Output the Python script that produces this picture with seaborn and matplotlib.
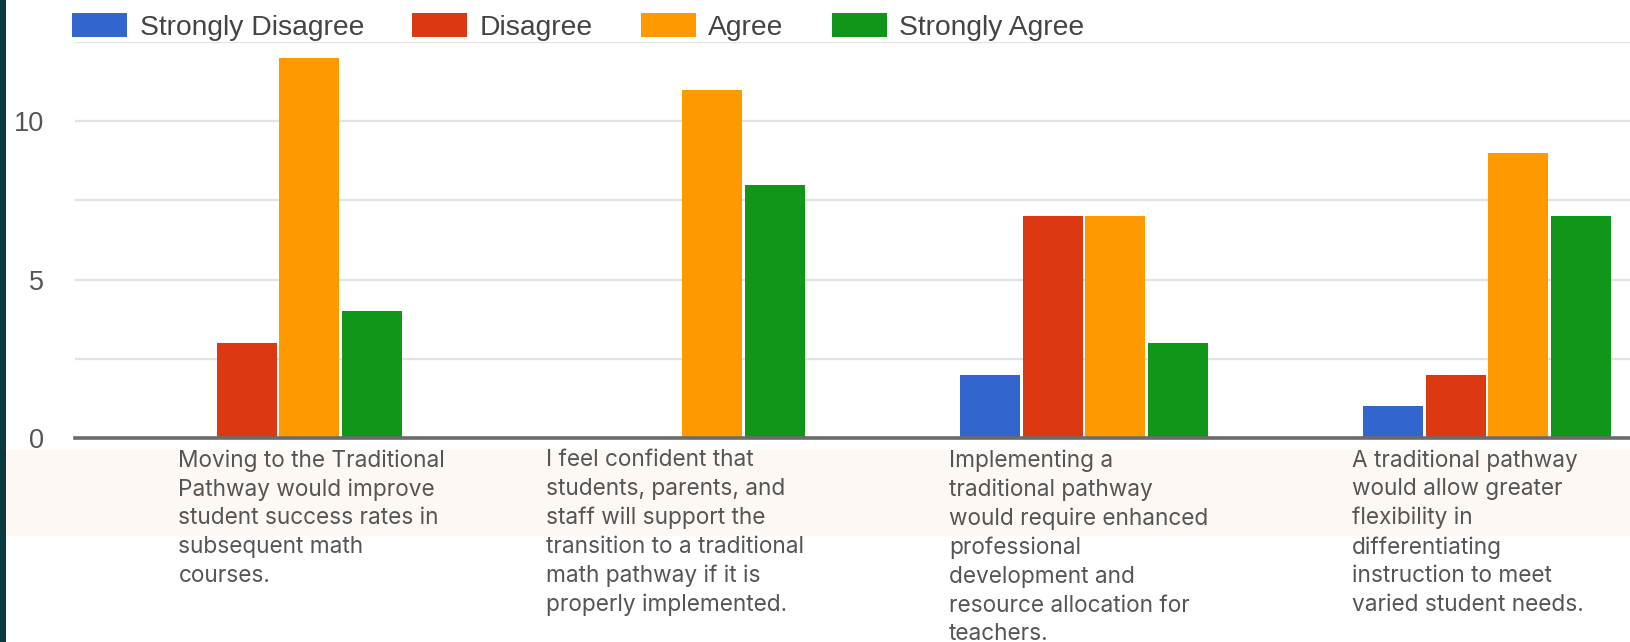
import matplotlib
matplotlib.use("Agg")
import matplotlib.pyplot as plt
from matplotlib.patches import Rectangle
import matplotlib.transforms as mtransforms
import seaborn as sns
import pandas as pd

# ---------------- data ----------------
questions = [
    "Moving to the Traditional\nPathway would improve\nstudent success rates in\nsubsequent math\ncourses.",
    "I feel confident that\nstudents, parents, and\nstaff will support the\ntransition to a traditional\nmath pathway if it is\nproperly implemented.",
    "Implementing a\ntraditional pathway\nwould require enhanced\nprofessional\ndevelopment and\nresource allocation for\nteachers.",
    "A traditional pathway\nwould allow greater\nflexibility in\ndifferentiating\ninstruction to meet\nvaried student needs.",
]
responses = ["Strongly Disagree", "Disagree", "Agree", "Strongly Agree"]
strongly_disagree = [0, 0, 2, 1]
disagree = [3, 0, 7, 2]
agree = [12, 11, 7, 9]
strongly_agree = [4, 8, 3, 7]
y_ticks = [0, 5, 10]

colors = ["#3366CC", "#DC3912", "#FF9900", "#109618"]

series = [strongly_disagree, disagree, agree, strongly_agree]
rows = []
for r, vals in zip(responses, series):
    for qi, v in enumerate(vals):
        rows.append({"question": qi, "response": r, "count": v})
df = pd.DataFrame(rows)

# ---------------- figure ----------------
W, H = 1630, 642
fig = plt.figure(figsize=(W / 100, H / 100), dpi=100)
fig.patch.set_facecolor("white")

# light beige band behind category labels (drawn below everything)
fig.patches.append(Rectangle((6 / W, 1 - 536 / H), 1 - 6 / W, (536 - 450) / H,
                             transform=fig.transFigure, facecolor="#fdf8f4",
                             edgecolor="none", zorder=-5))

# axes placement (pixels -> fractions)
ax_left, ax_right, ax_top, ax_bottom = 75, W, 42, 438
ax = fig.add_axes([ax_left / W, 1 - ax_bottom / H, (ax_right - ax_left) / W, (ax_bottom - ax_top) / H])
ax.set_facecolor("none")

sns.barplot(data=df, x="question", y="count", hue="response", hue_order=responses,
            palette=colors, width=0.62, gap=0.04, ax=ax, legend=True,
            saturation=1, linewidth=0, zorder=3)

# group spacing: first group center at 278px, spacing 403px
px_per_cat = 403.0
x_left = -(278 - ax_left) / px_per_cat
x_right = x_left + (ax_right - ax_left) / px_per_cat
ax.set_xlim(x_left, x_right)
ax.set_ylim(0, 12.5)

ax.set_yticks(y_ticks)
ax.set_yticks([2.5, 7.5, 12.5], minor=True)
ax.set_yticklabels([str(t) for t in y_ticks], fontsize=19.5, color="#555555",
                   family="Liberation Sans")
ax.tick_params(axis="y", which="both", length=0, pad=22)
ax.set_xticks([])
ax.set_xlabel("")
ax.set_ylabel("")

ax.grid(axis="y", which="both", color="#e3e3e3", linewidth=1.6, zorder=0)
ax.set_axisbelow(True)
for s in ["top", "right", "left"]:
    ax.spines[s].set_visible(False)
ax.spines["bottom"].set_color("#6b6b6b")
ax.spines["bottom"].set_linewidth(2.6)
ax.spines["bottom"].set_zorder(5)

# legend
handles, labels = ax.get_legend_handles_labels()
ax.legend(handles, labels, loc="center left",
          bbox_to_anchor=(72 / W, 1 - 27 / H), bbox_transform=fig.transFigure,
          ncol=4, frameon=False, borderpad=0, borderaxespad=0,
          handlelength=1.95, handleheight=0.92, handletextpad=0.45,
          columnspacing=1.7,
          prop={"family": "Liberation Sans", "size": 20.3}, labelcolor="#444444")

# left dark strip
fig.patches.append(Rectangle((0, 0), 6 / W, 1, transform=fig.transFigure,
                             facecolor="#0b3a3e", edgecolor="none", zorder=10))

# category labels
label_offsets = [-0.247, -0.335, -0.335, -0.335]
trans = mtransforms.blended_transform_factory(ax.transData, fig.transFigure)
for i, (q, off) in enumerate(zip(questions, label_offsets)):
    ax.text(i + off, 1 - 449 / H, q, transform=trans, ha="left", va="top",
            fontsize=16.3, family="Inter", color="#555555", linespacing=1.39,
            clip_on=False)

fig.savefig("out.png", dpi=100)
